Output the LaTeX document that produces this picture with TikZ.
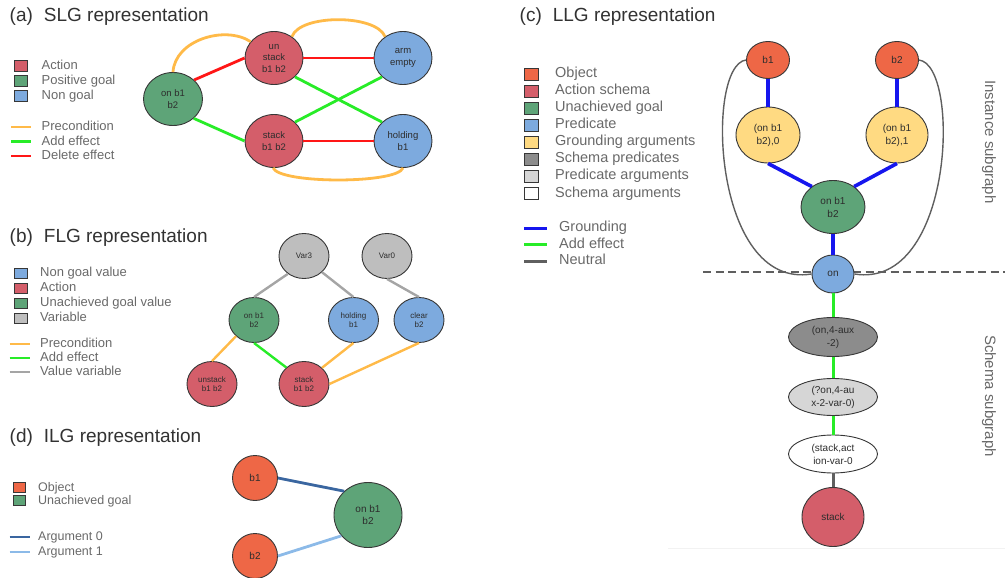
\documentclass[tikz,border=0pt]{standalone}
\usepackage{fontspec}
\setmainfont{Liberation Sans}
\usetikzlibrary{shapes.geometric}

% fills
\definecolor{actred}{RGB}{212,94,106}
\definecolor{goalgreen}{RGB}{94,164,120}
\definecolor{predblue}{RGB}{125,170,222}
\definecolor{objorange}{RGB}{238,103,70}
\definecolor{argyellow}{RGB}{255,218,130}
\definecolor{schemagray}{RGB}{140,140,140}
\definecolor{predarggray}{RGB}{214,214,214}
\definecolor{vargray}{RGB}{190,190,190}
% edges
\definecolor{preorange}{RGB}{255,186,72}
\definecolor{addgreen}{RGB}{40,236,40}
\definecolor{delred}{RGB}{255,22,22}
\definecolor{valgray}{RGB}{165,165,165}
\definecolor{groundblue}{RGB}{22,22,238}
\definecolor{neutralgray}{RGB}{95,95,95}
\definecolor{argzero}{RGB}{58,102,160}
\definecolor{argone}{RGB}{140,186,232}
% text and outlines
\definecolor{rimgray}{RGB}{55,55,55}
\definecolor{labelgray}{RGB}{105,105,105}
\definecolor{titlegray}{RGB}{50,50,50}
\definecolor{nodetext}{RGB}{45,45,45}

\tikzset{
  nd/.style={ellipse, draw=rimgray, line width=0.9pt, inner sep=0pt, align=center, text=nodetext},
  slgnode/.style={nd, minimum width=58pt, minimum height=53pt, font=\fontsize{9.5}{11.5}\selectfont},
  flgnode/.style={nd, minimum width=50pt, minimum height=45pt, font=\fontsize{8}{9}\selectfont},
  ilgnode/.style={nd, font=\fontsize{10}{12.7}\selectfont},
  llgnode/.style={nd, font=\fontsize{10}{13}\selectfont},
  paneltitle/.style={anchor=base west, inner sep=0pt, text=titlegray, font=\fontsize{19}{19}\selectfont},
  legtext/.style={anchor=west, inner sep=0pt, text=labelgray, text height=0.72em, text depth=0pt},
  legbox/.style={draw=rimgray, line width=0.8pt, inner sep=0pt},
  thickedge/.style={line width=2.8pt},
  midedge/.style={line width=2.4pt},
  sidelabel/.style={rotate=-90, inner sep=0pt, text=labelgray, font=\fontsize{15}{15}\selectfont},
}

\begin{document}
\begin{tikzpicture}[x=1pt, y=-1pt]
\useasboundingbox (0,0) rectangle (1005,578);

% ---------------- (a) SLG ----------------
\node[paneltitle] (ta) at (9.5,22) {(a)\hspace{11pt}SLG representation};
\foreach \c/\t [count=\i] in {actred/Action, goalgreen/Positive goal, predblue/Non goal}{
  \node[legbox, fill=\c, minimum width=13pt, minimum height=11pt] (asq\i) at (20.5,51+15*\i) {};
  \node[legtext, font=\fontsize{13}{13}\selectfont] (atx\i) at (41.5,51+15*\i) {\t};
}
\foreach \c/\t [count=\i] in {preorange/Precondition, addgreen/Add effect, delred/Delete effect}{
  \coordinate (ala\i) at (11,112.5+14.5*\i);
  \coordinate (alb\i) at (31,112.5+14.5*\i);
  \draw[line width=2.8pt, \c] (ala\i) -- (alb\i);
  \node[legtext, font=\fontsize{13}{13}\selectfont] (alt\i) at (41.5,112.5+14.5*\i) {\t};
}
\node[slgnode, fill=goalgreen, minimum width=59pt] (son) at (173,99) {on b1\\b2};
\node[slgnode, fill=actred] (sun) at (274,58) {un\\stack\\b1 b2};
\node[slgnode, fill=actred] (sst) at (274,141) {stack\\b1 b2};
\node[slgnode, fill=predblue] (sarm) at (403,58) {arm\\empty};
\node[slgnode, fill=predblue] (shold) at (403,141) {holding\\b1};

\draw[thickedge, delred] (son.42) -- (sun.west);
\draw[thickedge, addgreen] (son.-43) -- (sst.west);
\draw[thickedge, delred] (sun.east) -- (sarm.west);
\draw[thickedge, delred] (sst.east) -- (shold.west);
\draw[thickedge, addgreen] (sun.-42) -- (shold.138);
\draw[thickedge, addgreen] (sst.42) -- (sarm.-138);
\draw[thickedge, preorange] (son.north) .. controls (175,40) and (225,25) .. (sun.145);
\draw[thickedge, preorange] (sun.50) .. controls (300,14) and (376,14) .. (sarm.130);
\draw[thickedge, preorange] (sst.-92) .. controls (280,184) and (397,184) .. (shold.-90);

% ---------------- (b) FLG ----------------
\node[paneltitle] (tb) at (9.5,242.5) {(b)\hspace{11pt}FLG representation};
\foreach \c/\t [count=\i] in {predblue/Non goal value, actred/Action, goalgreen/Unachieved goal value, vargray/Variable}{
  \node[legbox, fill=\c, minimum width=13pt, minimum height=10pt] (bsq\i) at (20.5,258+15*\i) {};
  \node[legtext, font=\fontsize{13}{13}\selectfont] (btx\i) at (40,258+15*\i) {\t};
}
\foreach \c/\t [count=\i] in {preorange/Precondition, addgreen/Add effect, valgray/Value variable}{
  \coordinate (bla\i) at (9.5,330+14*\i);
  \coordinate (blb\i) at (30,330+14*\i);
  \draw[line width=2.8pt, \c] (bla\i) -- (blb\i);
  \node[legtext, font=\fontsize{13}{13}\selectfont] (blt\i) at (40,330+14*\i) {\t};
}
\node[flgnode, fill=vargray] (fv3) at (304,256) {Var3};
\node[flgnode, fill=vargray] (fv0) at (387,256) {Var0};
\node[flgnode, fill=goalgreen] (fon) at (254,320) {on b1\\b2};
\node[flgnode, fill=predblue] (fhold) at (353.5,320) {holding\\b1};
\node[flgnode, fill=predblue] (fclear) at (419,320) {clear\\b2};
\node[flgnode, fill=actred] (funst) at (212,384) {unstack\\b1 b2};
\node[flgnode, fill=actred] (fst) at (304,384) {stack\\b1 b2};

\draw[midedge, valgray] (fv3.-132) -- (fon.north);
\draw[midedge, valgray] (fv3.-42) -- (fhold.north);
\draw[midedge, valgray] (fv0.south) -- (fclear.north);
\draw[midedge, preorange] (fon.-138) -- (funst.north);
\draw[midedge, addgreen] (fon.south) -- (fst.137);
\draw[midedge, preorange] (fhold.south) -- (fst.42);
\draw[midedge, preorange] (fclear.south) -- (fst.east);

% ---------------- (d) ILG ----------------
\node[paneltitle] (td) at (9.5,442.5) {(d)\hspace{11pt}ILG representation};
\foreach \c/\t [count=\i] in {objorange/Object, goalgreen/Unachieved goal}{
  \node[legbox, fill=\c, minimum width=12pt, minimum height=10pt] (dsq\i) at (19,474.5+13*\i) {};
  \node[legtext, font=\fontsize{12.5}{12.5}\selectfont] (dtx\i) at (38,474.5+13*\i) {\t};
}
\foreach \c/\t [count=\i] in {argzero/Argument 0, argone/Argument 1}{
  \coordinate (dla\i) at (9.5,522+15*\i);
  \coordinate (dlb\i) at (29.5,522+15*\i);
  \draw[line width=2.8pt, \c] (dla\i) -- (dlb\i);
  \node[legtext, font=\fontsize{12.5}{12.5}\selectfont] (dlt\i) at (38,522+15*\i) {\t};
}
\node[ilgnode, fill=objorange, minimum width=45pt, minimum height=45pt] (ib1) at (255,478) {b1};
\node[ilgnode, fill=objorange, minimum width=45pt, minimum height=45pt] (ib2) at (255,556) {b2};
\node[ilgnode, fill=goalgreen, minimum width=68pt, minimum height=65pt] (igoal) at (368,515) {on b1\\b2};
\draw[line width=2.8pt, argzero] (ib1.east) -- (igoal.135);
\draw[line width=2.8pt, argone] (ib2.east) -- (igoal.-142);

% ---------------- (c) LLG ----------------
\node[paneltitle] (tc) at (519.5,22) {(c)\hspace{11pt}LLG representation};
\foreach \c/\t [count=\i] in {objorange/Object, actred/Action schema, goalgreen/Unachieved goal,
    predblue/Predicate, argyellow/Grounding arguments, schemagray/Schema predicates,
    predarggray/Predicate arguments, white/Schema arguments}{
  \node[legbox, fill=\c, minimum width=14pt, minimum height=12pt] (csq\i) at (531,57+17.05*\i) {};
  \node[legtext, font=\fontsize{14.5}{14.5}\selectfont] (ctx\i) at (555,57+17.05*\i) {\t};
}
\foreach \c/\t [count=\i] in {groundblue/Grounding, addgreen/Add effect, neutralgray/Neutral}{
  \coordinate (cla\i) at (524,211.7+16.5*\i);
  \coordinate (clb\i) at (547,211.7+16.5*\i);
  \draw[line width=3pt, \c] (cla\i) -- (clb\i);
  \node[legtext, font=\fontsize{14.5}{14.5}\selectfont] (clt\i) at (559,211.7+16.5*\i) {\t};
}

% divider between the two subgraphs
\coordinate (divl) at (703,272);
\coordinate (divr) at (1005,272);
\draw[line width=1.3pt, neutralgray, dash pattern=on 8pt off 4.5pt] (divl) -- (divr);
% faint bottom edge of the panel
\coordinate (fbl) at (668,548);
\coordinate (fbr) at (1005,548);
\draw[line width=0.8pt, black!5] (fbl) -- (fbr);

\node[llgnode, fill=objorange, minimum width=43pt, minimum height=37pt] (cb1) at (768,60) {b1};
\node[llgnode, fill=objorange, minimum width=43pt, minimum height=37pt] (cb2) at (897,60) {b2};
\node[llgnode, fill=argyellow, minimum width=64pt, minimum height=56pt] (cy0) at (768,135) {(on b1\\b2),0};
\node[llgnode, fill=argyellow, minimum width=62pt, minimum height=56pt] (cy1) at (897,135) {(on b1\\b2),1};
\node[llgnode, fill=goalgreen, minimum width=64pt, minimum height=53pt] (cgoal) at (833,207) {on b1\\b2};
\node[llgnode, fill=predblue, minimum width=42pt, minimum height=38pt] (con) at (833,274) {on};
\node[llgnode, fill=schemagray, minimum width=89pt, minimum height=39pt] (cs1) at (833,337) {(on,4-aux\\-2)};
\node[llgnode, fill=predarggray, minimum width=89pt, minimum height=37pt] (cs2) at (833,397) {(?on,4-au\\x-2-var-0)};
\node[llgnode, fill=white, minimum width=89pt, minimum height=38pt] (cs3) at (833,454) {(stack,act\\ion-var-0};
\node[llgnode, fill=actred, minimum width=62pt, minimum height=59pt] (cstack) at (833,517) {stack};

\draw[line width=3.6pt, groundblue] (cb1.south) -- (cy0.north);
\draw[line width=3.6pt, groundblue] (cb2.south) -- (cy1.north);
\draw[line width=3.6pt, groundblue] (cy0.south) -- (cgoal.136);
\draw[line width=3.6pt, groundblue] (cy1.south) -- (cgoal.44);
\draw[line width=3.6pt, groundblue] (cgoal.south) -- (con.north);
\draw[line width=3pt, addgreen] (con.south) -- (cs1.north);
\draw[line width=3pt, addgreen] (cs1.south) -- (cs2.north);
\draw[line width=3pt, addgreen] (cs2.south) -- (cs3.north);
\draw[line width=3pt, neutralgray] (cs3.south) -- (cstack.north);
\draw[line width=1.4pt, neutralgray] (cb1.west) .. controls (705,65) and (712,290) .. (con.west);
\draw[line width=1.4pt, neutralgray] (cb2.east) .. controls (961,65) and (954,290) .. (con.east);

\node[sidelabel] (cinst) at (989,142) {Instance subgraph};
\node[sidelabel] (cschema) at (989,396) {Schema subgraph};
\end{tikzpicture}
\end{document}
